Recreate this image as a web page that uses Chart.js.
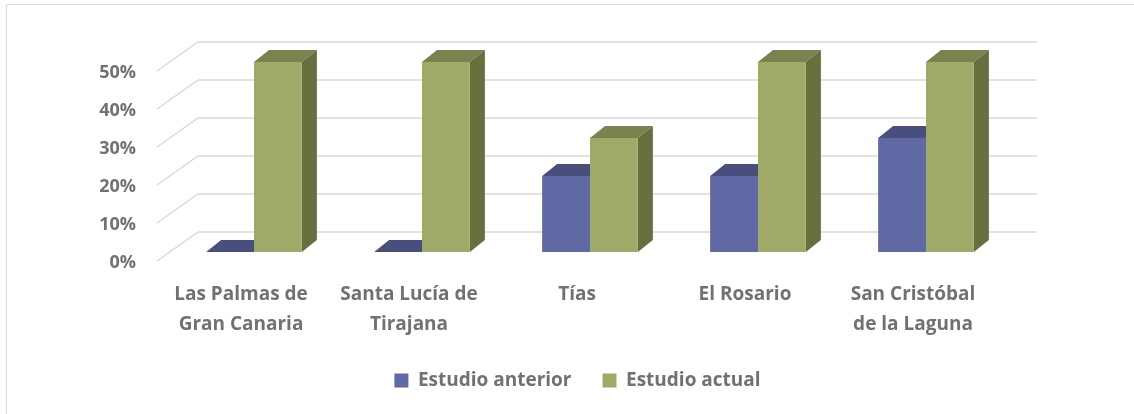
<!DOCTYPE html>
<html>
<head>
  <meta charset="utf-8">
  <title>Estudio anterior vs actual</title>
  <script src="https://cdn.jsdelivr.net/npm/chart.js"></script>
  <style>
    body { margin: 0; background: #fff; }
  </style>
</head>
<body>
  <canvas id="barChart" width="1134" height="414"></canvas>

  <script>
    const municipios = [
      ['Las Palmas de', 'Gran Canaria'],
      ['Santa Lucía de', 'Tirajana'],
      'Tías',
      'El Rosario',
      ['San Cristóbal', 'de la Laguna']
    ];
    const estudioAnterior = [0, 0, 20, 20, 30];
    const estudioActual = [50, 50, 30, 50, 50];
    const yTicks = [0, 10, 20, 30, 40, 50];

    const textColor = '#757070';
    const font = { family: 'Open Sans', size: 19, weight: 'bold' };

    // colores de las caras: frente, arriba, lado
    const faces = [
      { front: '#6069A4', top: '#484F7D', side: '#3F4670' },
      { front: '#A0AA68', top: '#7A8350', side: '#66703E' }
    ];
    const depth = { dx: 15, dy: -12 };

    const wall = {
      id: 'wall',
      beforeDraw(chart) {
        const { ctx, chartArea, scales } = chart;
        ctx.save();
        // marco (solo arriba e izquierda se ven)
        ctx.strokeStyle = '#d9d9d9';
        ctx.lineWidth = 1;
        ctx.beginPath();
        ctx.moveTo(6.5, 414);
        ctx.lineTo(6.5, 4.5);
        ctx.lineTo(1134, 4.5);
        ctx.stroke();

        ctx.lineWidth = 1.5;
        yTicks.forEach(v => {
          const y = scales.y.getPixelForValue(v);
          ctx.beginPath();
          ctx.moveTo(chartArea.left - 13, y + 9);
          ctx.lineTo(chartArea.left + 28, y - 20);
          ctx.lineTo(chartArea.right + 27, y - 20);
          ctx.stroke();
        });
        ctx.restore();
      },
      beforeDatasetsDraw(chart) {
        const ctx = chart.ctx;
        ctx.save();
        for (let i = 0; i < municipios.length; i++) {
          chart.data.datasets.forEach((ds, d) => {
            const bar = chart.getDatasetMeta(d).data[i];
            const p = bar.getProps(['x', 'y', 'base', 'width'], true);
            const l = p.x - p.width / 2, r = p.x + p.width / 2;
            // cara superior
            ctx.fillStyle = faces[d].top;
            ctx.beginPath();
            ctx.moveTo(l, p.y);
            ctx.lineTo(l + depth.dx, p.y + depth.dy);
            ctx.lineTo(r + depth.dx, p.y + depth.dy);
            ctx.lineTo(r, p.y);
            ctx.closePath();
            ctx.fill();
            // cara lateral
            ctx.fillStyle = faces[d].side;
            ctx.beginPath();
            ctx.moveTo(r, p.y);
            ctx.lineTo(r + depth.dx, p.y + depth.dy);
            ctx.lineTo(r + depth.dx, p.base + depth.dy);
            ctx.lineTo(r, p.base);
            ctx.closePath();
            ctx.fill();
          });
        }
        ctx.restore();
      }
    };

    const ctx = document.getElementById('barChart').getContext('2d');
    new Chart(ctx, {
      type: 'bar',
      data: {
        labels: municipios,
        datasets: [
          {
            label: 'Estudio anterior',
            data: estudioAnterior,
            backgroundColor: faces[0].front,
            borderWidth: 0
          },
          {
            label: 'Estudio actual',
            data: estudioActual,
            backgroundColor: faces[1].front,
            borderWidth: 0
          }
        ]
      },
      options: {
        responsive: false,
        animation: false,
        layout: { padding: { left: 21, right: 0, top: 62, bottom: 14 } },
        datasets: {
          bar: { categoryPercentage: 0.57, barPercentage: 1 }
        },
        scales: {
          x: {
            grid: { display: false, drawTicks: false },
            border: { display: false },
            ticks: {
              color: textColor,
              font: { ...font, lineHeight: 1.58 },
              padding: 28,
              labelOffset: -13,
              maxRotation: 0
            },
            afterFit(scale) { scale.height = 88; }
          },
          y: {
            min: 0,
            max: 50,
            grid: { display: false, drawTicks: false },
            border: { display: false },
            ticks: {
              stepSize: 10,
              color: textColor,
              font: { ...font, size: 18 },
              padding: 34,
              labelOffset: 11,
              callback: v => v + '%'
            },
            afterFit(scale) { scale.width = 149; }
          },
          derecha: {
            position: 'right',
            grid: { display: false, drawTicks: false },
            border: { display: false },
            ticks: { display: false },
            afterFit(scale) { scale.width = 124; }
          }
        },
        plugins: {
          legend: {
            position: 'bottom',
            labels: {
              color: textColor,
              font: font,
              boxWidth: 14,
              boxHeight: 14,
              padding: 31
            }
          },
          tooltip: { enabled: false }
        }
      },
      plugins: [wall]
    });
  </script>
</body>
</html>
